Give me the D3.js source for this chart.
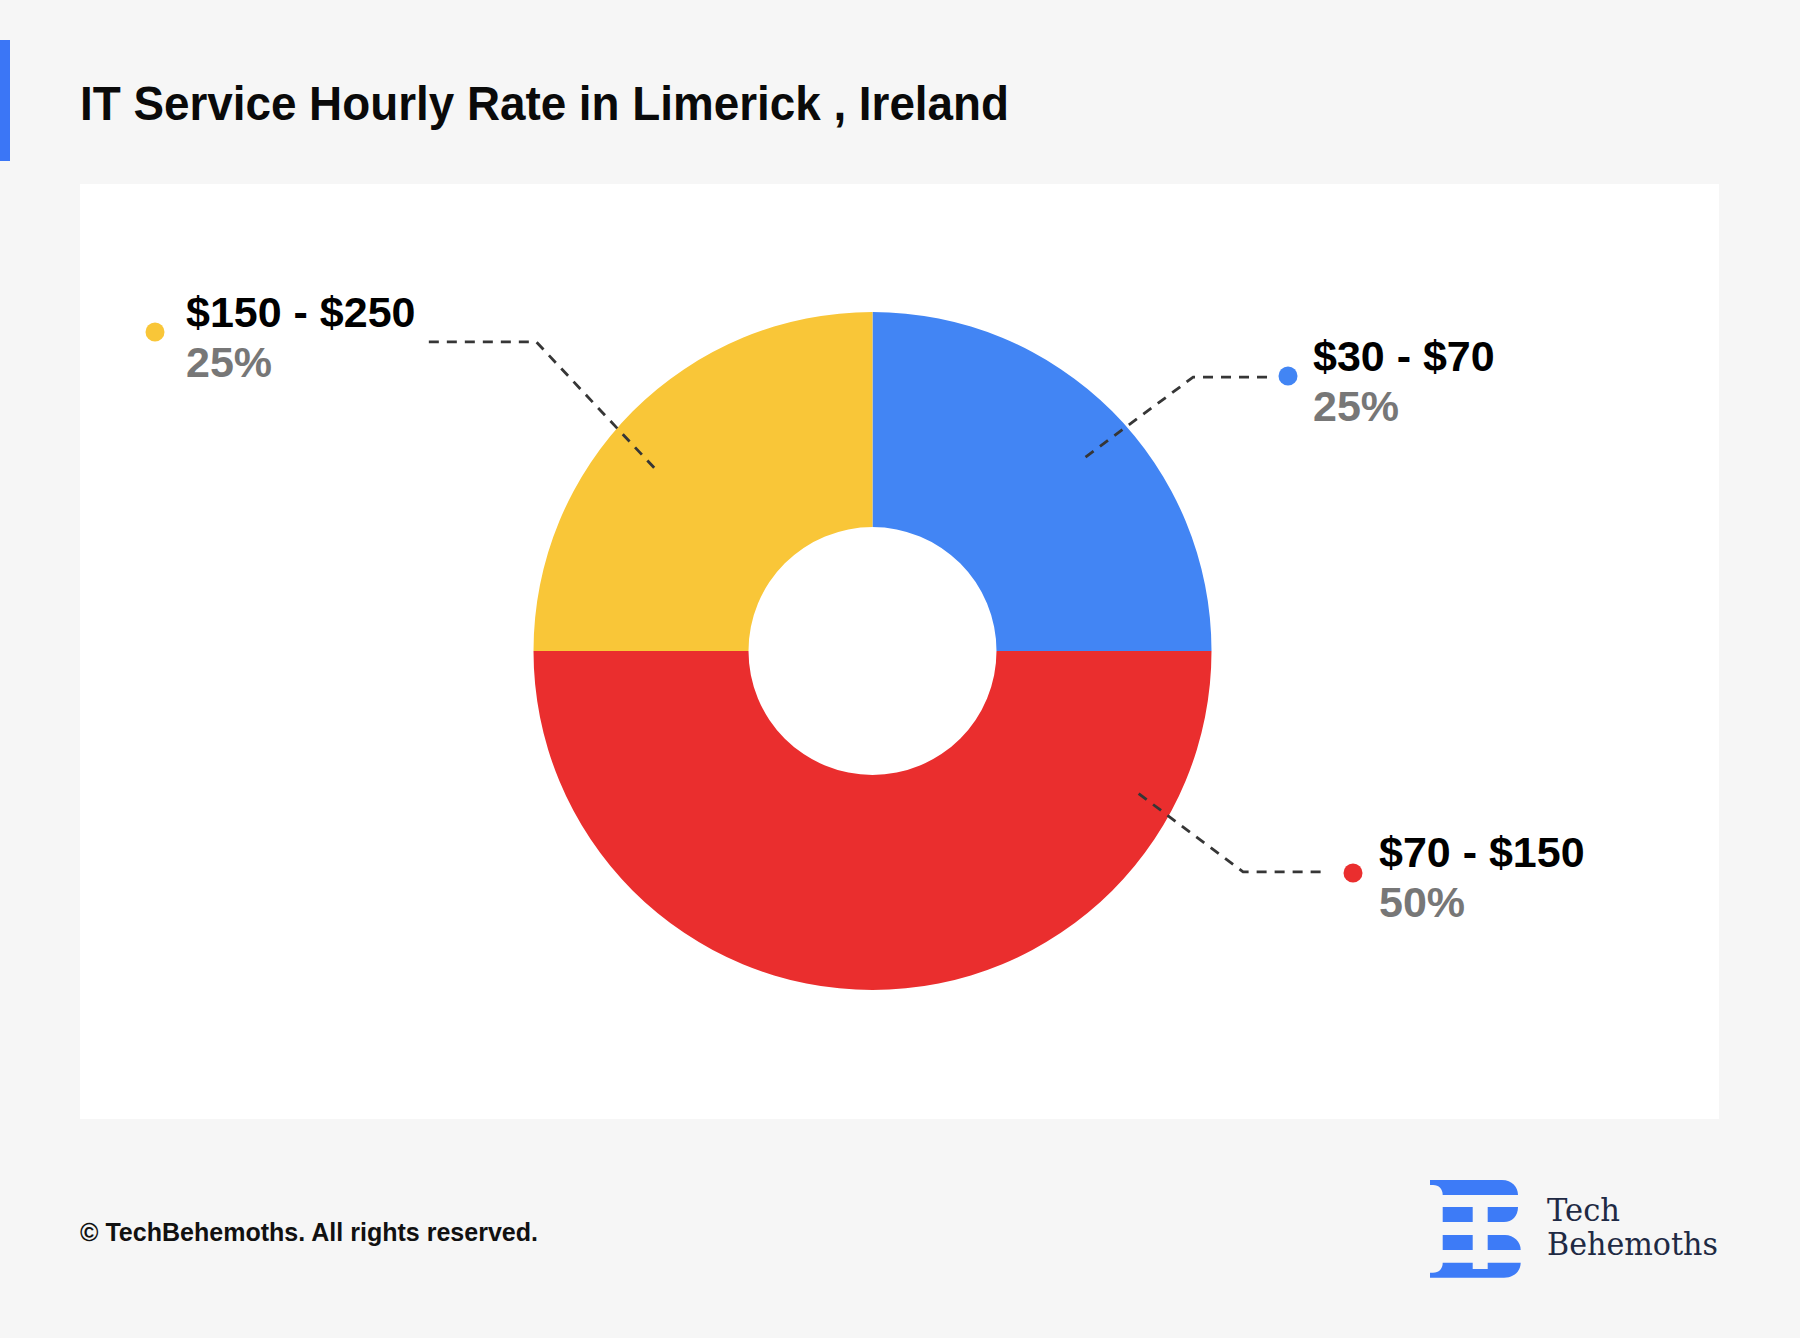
<!DOCTYPE html>
<html>
<head>
<meta charset="utf-8">
<script src="https://cdn.jsdelivr.net/npm/d3@7"></script>
<style>
  html, body { margin: 0; padding: 0; background: #f6f6f6; }
  svg { display: block; }
</style>
</head>
<body>
<div id="chart"></div>
<script>
// ---- data ----
const categories = ["$30 - $70", "$70 - $150", "$150 - $250"];
const shares = [25, 50, 25];
const sliceColors = ["#4285F4", "#EA2E2E", "#F9C638"];
const titleText = "IT Service Hourly Rate in Limerick , Ireland";
const footerText = "\u00A9 TechBehemoths. All rights reserved.";

// ---- layout (positions only) ----
const W = 1800, H = 1338;
const cx = 872.5, cy = 651, rOuter = 339, rInner = 124;
// leader geometry per slice: start angle/radius, elbow angle/radius, horizontal end, dot, text
const labelLayout = [
  { a1: 47.7, r1: 288, a2: 49.5, r2: 421.7, lineEnd: 1269, dot: [1288, 376], tx: 1313, ny: 371, py: 421 },
  { a1: 118.2, r1: 302, a2: 120.8, r2: 431.4, lineEnd: 1323, dot: [1353, 873], tx: 1379, ny: 867, py: 917 },
  { a1: -50, r1: 285, a2: -47.4, r2: 456.8, lineEnd: 427, dot: [155, 332], tx: 186, ny: 327, py: 377 }
];

const svg = d3.select("#chart").append("svg")
  .attr("width", W).attr("height", H)
  .attr("viewBox", `0 0 ${W} ${H}`);

svg.append("rect").attr("width", W).attr("height", H).attr("fill", "#f6f6f6");
// accent bar
svg.append("rect").attr("x", 0).attr("y", 40).attr("width", 10).attr("height", 121).attr("fill", "#3B76F6");
// title
svg.append("text").attr("x", 80).attr("y", 120)
  .attr("font-family", "'Liberation Sans', Arial, sans-serif")
  .attr("font-weight", 700).attr("font-size", 48).attr("fill", "#0a0a0a")
  .attr("textLength", 929).attr("lengthAdjust", "spacingAndGlyphs")
  .text(titleText);

// panel
svg.append("rect").attr("x", 80).attr("y", 184).attr("width", 1639).attr("height", 935).attr("fill", "#ffffff");

// donut
const pie = d3.pie().sort(null).value(d => d).startAngle(0).endAngle(2 * Math.PI);
const arcs = pie(shares);
const arc = d3.arc().innerRadius(rInner).outerRadius(rOuter);
const g = svg.append("g").attr("transform", `translate(${cx},${cy})`);
g.selectAll("path.slice").data(arcs).join("path")
  .attr("class", "slice")
  .attr("d", arc)
  .attr("fill", (d, i) => sliceColors[i]);

// labels
const polar = (deg, r) => {
  const a = deg * Math.PI / 180;
  return [cx + r * Math.sin(a), cy - r * Math.cos(a)];
};
const lab = svg.append("g");
labelLayout.forEach((L, i) => {
  const p1 = polar(L.a1, L.r1);
  const p2 = polar(L.a2, L.r2);
  const p3 = [L.lineEnd, p2[1]];
  lab.append("path")
    .attr("d", d3.line()([p1, p2, p3]))
    .attr("fill", "none").attr("stroke", "#363636")
    .attr("stroke-width", 2.8).attr("stroke-dasharray", "10,8");
  lab.append("circle").attr("cx", L.dot[0]).attr("cy", L.dot[1]).attr("r", 9.5)
    .attr("fill", sliceColors[i]);
  lab.append("text").attr("x", L.tx).attr("y", L.ny)
    .attr("font-family", "'Liberation Sans', Arial, sans-serif")
    .attr("font-weight", 700).attr("font-size", 43).attr("fill", "#000")
    .text(categories[i]);
  lab.append("text").attr("x", L.tx).attr("y", L.py)
    .attr("font-family", "'Liberation Sans', Arial, sans-serif")
    .attr("font-weight", 700).attr("font-size", 43).attr("fill", "#777777")
    .text(d3.format("d")(shares[i]) + "%");
});

// footer
svg.append("text").attr("x", 80).attr("y", 1241)
  .attr("font-family", "'Liberation Sans', Arial, sans-serif")
  .attr("font-weight", 700).attr("font-size", 25).attr("fill", "#111")
  .attr("textLength", 458).attr("lengthAdjust", "spacingAndGlyphs")
  .text(footerText);

// logo
const logo = svg.append("g").attr("transform", "translate(1430,1180)").attr("fill", "#3D7BF7");
const logoPaths = [
  "M0,0 H72 C82,0 88,7 88,15 H12.7 C12.7,9 9,5 3,5 H0 Z",
  "M12.7,27 H42.7 V42 H12.7 Z",
  "M57.7,27 H88 C88,36 82,42 74,42 H57.7 Z",
  "M12.7,55 H42.7 V70 H12.7 Z",
  "M57.7,55 H75 C84,55 90.7,62 90.7,70 H57.7 Z",
  "M12.7,82.7 H42.7 V89 H57.7 V82.7 H90.7 C90.7,91 84,97.7 74,97.7 H0 V92.7 H3 C9,92.7 12.7,88.7 12.7,82.7 Z"
];
logo.selectAll("path").data(logoPaths).join("path").attr("d", d => d);
svg.append("text").attr("x", 1547).attr("y", 1221)
  .attr("font-family", "'DejaVu Serif', 'Liberation Serif', serif")
  .attr("font-size", 31).attr("fill", "#1F2A44")
  .attr("textLength", 73).attr("lengthAdjust", "spacingAndGlyphs")
  .text("Tech");
svg.append("text").attr("x", 1547).attr("y", 1255)
  .attr("font-family", "'DejaVu Serif', 'Liberation Serif', serif")
  .attr("font-size", 31).attr("fill", "#1F2A44")
  .attr("textLength", 171).attr("lengthAdjust", "spacingAndGlyphs")
  .text("Behemoths");
</script>
</body>
</html>
